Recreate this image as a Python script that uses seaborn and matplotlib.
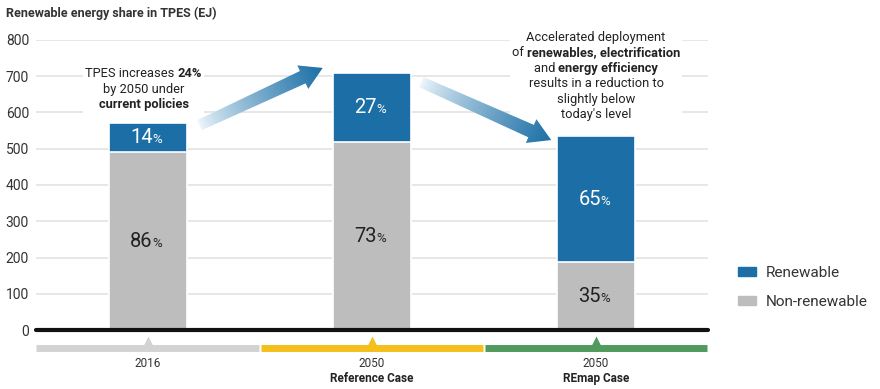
import numpy as np
import matplotlib
matplotlib.use("Agg")
import matplotlib.pyplot as plt
import seaborn as sns
from matplotlib.patches import Patch, Polygon
from matplotlib.offsetbox import TextArea, HPacker, VPacker, AnnotationBbox

# ---------------- data ----------------
years = ["2016", "2050", "2050"]
cases = ["", "Reference Case", "REmap Case"]
categories = ["2016", "2050 Reference Case", "2050 REmap Case"]
renewable = [80, 192, 348]          # EJ
non_renewable = [490, 518, 187]     # EJ
renew_pct = ["14", "27", "65"]
nonrenew_pct = ["86", "73", "35"]
band_colors = ["#d3d3d3", "#f5c01c", "#509a5c"]
yticks = [0, 100, 200, 300, 400, 500, 600, 700, 800]

BLUE = "#1b6fa6"
GRAY = "#bdbdbd"
TXT = "#333333"

sns.set_theme(style="white")
plt.rcParams["font.family"] = ["Roboto", "DejaVu Sans"]

fig = plt.figure(figsize=(8.8, 3.89), dpi=100)
ax = fig.add_axes([36 / 880, 1 - 330 / 389, 672 / 880, 290 / 389])

totals = [r + n for r, n in zip(renewable, non_renewable)]
sns.barplot(x=categories, y=totals, color=BLUE, saturation=1, width=0.35,
            edgecolor="white", linewidth=1.2, ax=ax, zorder=3)
sns.barplot(x=categories, y=non_renewable, color=GRAY, saturation=1, width=0.35,
            edgecolor="white", linewidth=1.2, ax=ax, zorder=3)

ax.set_xlim(-0.5, 2.5)
ax.set_ylim(0, 800)
ax.set_yticks(yticks)
ax.set_yticklabels([str(v) for v in yticks], fontsize=10, color=TXT)
ax.tick_params(axis="y", length=0, pad=5)
ax.set_xticks([])
ax.set_xlabel("")
ax.set_ylabel("")
for s in ax.spines.values():
    s.set_visible(False)
ax.grid(axis="y", color="#e0e0e0", lw=1.1, zorder=0)
ax.set_axisbelow(True)
ax.axhline(0, color="#111111", lw=3, zorder=4, clip_on=False)

# percentage labels
def pct_label(x, y, num, color):
    ax.annotate(num, (x, y), xytext=(3.5, 0), textcoords="offset points",
                ha="right", va="center", fontsize=14.5, color=color, zorder=5)
    ax.annotate("%", (x, y), xytext=(2.8, -1.5), textcoords="offset points",
                ha="left", va="center", fontsize=9.5, color=color, zorder=5)

for i in range(3):
    pct_label(i, non_renewable[i] + renewable[i] / 2, renew_pct[i], "white")
    pct_label(i, non_renewable[i] / 2, nonrenew_pct[i], "#222222")

# bottom category bands
xt = ax.get_xaxis_transform()
for i in range(3):
    ax.plot([i - 0.5 + (0.003 if i else 0), i + 0.497], [-0.062, -0.062], transform=xt,
            color=band_colors[i], lw=5, solid_capstyle="butt", clip_on=False)
    ax.plot(i, -0.043, marker="^", ms=8, color=band_colors[i], transform=xt,
            clip_on=False, mec="none")
    ax.text(i, -0.115, years[i], transform=xt, ha="center", va="center",
            fontsize=8.5, color=TXT)
    if cases[i]:
        ax.text(i, -0.168, cases[i], transform=xt, ha="center", va="center",
                fontsize=8.5, color="#222222", fontweight="bold")

# title
fig.text(6 / 880, 1 - 13 / 389, "Renewable energy share in TPES (EJ)", fontsize=9,
         fontweight="bold", color=TXT, va="center", ha="left")

# legend
leg = fig.legend(handles=[Patch(color=BLUE, label="Renewable"),
                          Patch(color=GRAY, label="Non-renewable")],
                 loc="upper left", bbox_to_anchor=(724 / 880, 1 - 252 / 389),
                 frameon=False, fontsize=11, handlelength=1.2, handleheight=0.55,
                 labelspacing=1.0, handletextpad=0.6)
for t in leg.get_texts():
    t.set_color(TXT)

# mixed-weight annotation texts
def rich(lines, xy):
    rows = []
    for parts in lines:
        areas = [TextArea(txt, textprops=dict(fontsize=9.3, color="#222222",
                                              fontweight=("bold" if b else "normal")))
                 for txt, b in parts]
        rows.append(HPacker(children=areas, pad=0, sep=0, align="baseline"))
    box = VPacker(children=rows, pad=0, sep=1.8, align="center")
    ab = AnnotationBbox(box, xy, xycoords=ax.transData, frameon=True, pad=0.15,
                        bboxprops=dict(facecolor="white", edgecolor="none"),
                        annotation_clip=False, zorder=6)
    ax.add_artist(ab)

rich([[("TPES increases ", False), ("24%", True)],
      [("by 2050 under", False)],
      [("current policies", True)]], (-0.02, 664))
rich([[("Accelerated deployment", False)],
      [("of ", False), ("renewables, electrification", True)],
      [("and ", False), ("energy efficiency", True)],
      [("results in a reduction to", False)],
      [("slightly below", False)],
      [("today's level", False)]], (2.0, 700))

# gradient arrows (overlay in pixel space)
fig.canvas.draw()
ov = fig.add_axes([0, 0, 1, 1], zorder=10)
ov.set_xlim(0, 880)
ov.set_ylim(389, 0)
ov.axis("off")
ov.patch.set_alpha(0)

def to_px(x, y):
    d = ax.transData.transform((x, y))
    return np.array([d[0], 389 - d[1]])

def grad_arrow(tail, tip):
    T, P = to_px(*tail), to_px(*tip)
    v = P - T
    L = np.hypot(*v)
    u = v / L
    n = np.array([-u[1], u[0]])
    hl, hw, w0, w1 = 22, 13, 5.5, 6.8
    B = P - u * hl
    pts = [T + n * w0, B + n * w1, B + n * hw, P, B - n * hw, B - n * w1, T - n * w0]
    poly = Polygon(pts, closed=True, facecolor="none", edgecolor="none")
    ov.add_patch(poly)
    xs = [p[0] for p in pts]; ys = [p[1] for p in pts]
    x0, x1, y0, y1 = min(xs) - 2, max(xs) + 2, min(ys) - 2, max(ys) + 2
    gx, gy = np.meshgrid(np.linspace(x0, x1, 200), np.linspace(y0, y1, 200))
    t = np.clip(((gx - T[0]) * u[0] + (gy - T[1]) * u[1]) / L, 0, 1)
    c_dark = np.array(matplotlib.colors.to_rgb(BLUE))
    c_light = np.array([0.94, 0.97, 0.99])
    ease = t ** 0.8
    img = c_light[None, None, :] * (1 - ease[..., None]) + c_dark[None, None, :] * ease[..., None]
    im = ov.imshow(img, extent=(x0, x1, y1, y0), origin="upper", interpolation="bilinear",
                   aspect="auto")
    im.set_clip_path(poly)
    ov.set_xlim(0, 880)
    ov.set_ylim(389, 0)

grad_arrow((0.23, 565), (0.78, 723))
grad_arrow((1.22, 684), (1.80, 524))

fig.savefig("out.png", dpi=100)
